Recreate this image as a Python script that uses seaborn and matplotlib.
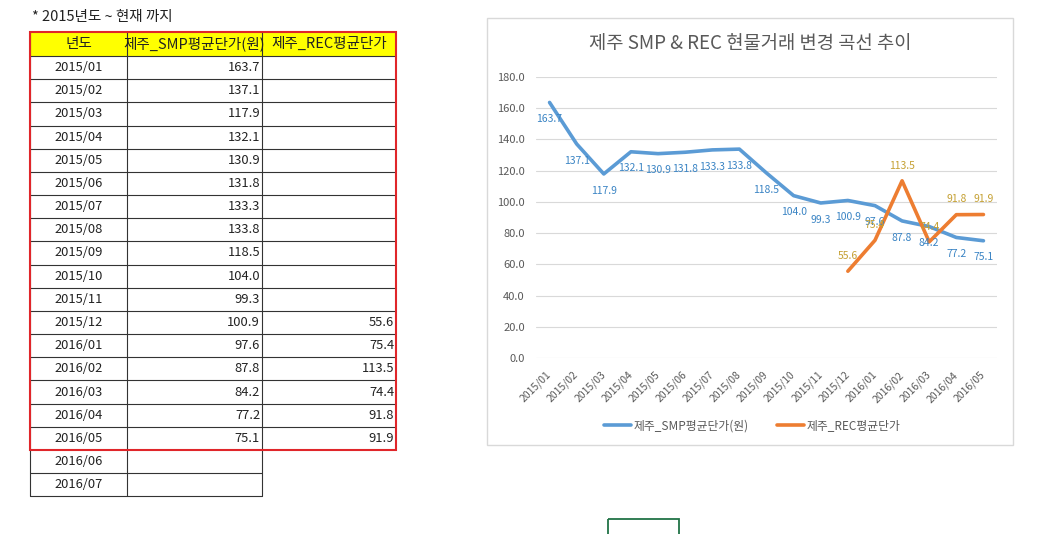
import numpy as np
import pandas as pd
import matplotlib
matplotlib.use('Agg')
import matplotlib.pyplot as plt
import seaborn as sns
from matplotlib.patches import Rectangle
from matplotlib.lines import Line2D

# %% data
months = ['2015/01', '2015/02', '2015/03', '2015/04', '2015/05', '2015/06',
          '2015/07', '2015/08', '2015/09', '2015/10', '2015/11', '2015/12',
          '2016/01', '2016/02', '2016/03', '2016/04', '2016/05']
smp = [163.7, 137.1, 117.9, 132.1, 130.9, 131.8, 133.3, 133.8, 118.5,
       104.0, 99.3, 100.9, 97.6, 87.8, 84.2, 77.2, 75.1]
rec = [np.nan] * 11 + [55.6, 75.4, 113.5, 74.4, 91.8, 91.9]
empty_months = ['2016/06', '2016/07']
header = ['년도', '제주_SMP평균단가(원)', '제주_REC평균단가']
series_names = ['제주_SMP평균단가(원)', '제주_REC평균단가']
note = '* 2015년도 ~ 현재 까지'
title = '제주 SMP & REC 현물거래 변경 곡선 추이'
yticks = [0, 20, 40, 60, 80, 100, 120, 140, 160, 180]

BLUE = '#5B9BD5'
ORANGE = '#ED7D31'
GRAY = '#595959'

sns.set_theme(style='white')
plt.rcParams['font.family'] = ['Noto Sans CJK KR', 'DejaVu Sans']

W, H = 1037, 534
fig = plt.figure(figsize=(W / 100, H / 100), dpi=100)
fig.patch.set_facecolor('white')

# canvas in pixel coords for the sheet part
cv = fig.add_axes([0, 0, 1, 1])
cv.set_xlim(0, W)
cv.set_ylim(H, 0)
cv.axis('off')

# %% table
col_x = [30, 127, 262, 396]
top, head_h = 32, 24
row_h = (450 - (top + head_h)) / len(months)
txt_col = '#222222'

cv.text(32, 17, note, va='center', fontsize=10.5, color=txt_col)
cv.add_patch(Rectangle((col_x[0], top), col_x[3] - col_x[0], head_h,
                       fc='#FFFF00', ec='none'))
for j, name in enumerate(header):
    cx = (col_x[j] + col_x[j + 1]) / 2
    t = cv.text(cx, top + head_h / 2, name, ha='center', va='center',
                fontsize=10.5, color=txt_col)
    t.set_clip_path(Rectangle((col_x[j], top), col_x[j + 1] - col_x[j], head_h,
                              transform=cv.transData))

red_bottom = top + head_h + row_h * len(months)
for i, m in enumerate(months):
    y0 = top + head_h + i * row_h
    yc = y0 + row_h / 2
    cv.text((col_x[0] + col_x[1]) / 2, yc, m, ha='center', va='center',
            fontsize=9.3, color=txt_col)
    cv.text(col_x[2] - 2, yc, f'{smp[i]:.1f}', ha='right', va='center',
            fontsize=9.3, color=txt_col)
    if not np.isnan(rec[i]):
        cv.text(col_x[3] - 2, yc, f'{rec[i]:.1f}', ha='right', va='center',
                fontsize=9.3, color=txt_col)
    cv.plot([col_x[0], col_x[3]], [y0, y0], color='#333333', lw=0.8)

for i, m in enumerate(empty_months):
    y0 = red_bottom + i * row_h
    cv.text((col_x[0] + col_x[1]) / 2, y0 + row_h / 2, m, ha='center',
            va='center', fontsize=9.3, color=txt_col)
    cv.plot([col_x[0], col_x[2]], [y0 + row_h, y0 + row_h], color='#333333', lw=0.8)

bottom_all = red_bottom + row_h * len(empty_months)
for x in col_x[:3]:
    cv.plot([x, x], [top, bottom_all], color='#333333', lw=0.8)
cv.add_patch(Rectangle((col_x[0], top), col_x[3] - col_x[0], red_bottom - top,
                       fill=False, ec='#E0262A', lw=1.5, zorder=5))

# %% chart frame and title
cv.add_patch(Rectangle((487, 18), 526, 427, fc='white', ec='#D9D9D9', lw=1))
cv.text(750, 44, title, ha='center', va='center', fontsize=13.5, color=GRAY)
cv.add_patch(Rectangle((608, 519), 71, 20, fill=False, ec='#217346', lw=1.3))

# %% line chart
ax = fig.add_axes([536 / W, 1 - 358 / H, 461 / W, 281 / H])
ax.set_facecolor('none')
idx = np.arange(len(months))
df = pd.concat([
    pd.DataFrame({'idx': idx, 'value': smp, 'series': series_names[0]}),
    pd.DataFrame({'idx': idx, 'value': rec, 'series': series_names[1]}),
]).dropna()
sns.lineplot(data=df, x='idx', y='value', hue='series',
             palette=[BLUE, ORANGE], linewidth=2.6, sort=False,
             legend=False, ax=ax)

for i, v in enumerate(smp):
    ax.annotate(f'{v:.1f}', (i, v), xytext=(0, -12), textcoords='offset points',
                ha='center', va='center', fontsize=7.5, color='#3A84C4')
for i, v in enumerate(rec):
    if not np.isnan(v):
        ax.annotate(f'{v:.1f}', (i, v), xytext=(0, 11), textcoords='offset points',
                    ha='center', va='center', fontsize=7.5, color='#C5A032')

ax.set_xlim(-0.5, len(months) - 0.5)
ax.set_ylim(0, 180)
ax.set_yticks(yticks)
ax.set_yticklabels([f'{v:.1f}' for v in yticks])
ax.set_xticks(idx)
ax.set_xticklabels(months, rotation=45, ha='right', va='center',
                   rotation_mode='anchor')
ax.tick_params(axis='y', length=0, pad=8, labelsize=8, labelcolor=GRAY)
ax.tick_params(axis='x', length=0, pad=11, labelsize=7.5, labelcolor=GRAY)
ax.set_xlabel('')
ax.set_ylabel('')
ax.yaxis.grid(True, color='#D9D9D9', lw=0.8)
ax.xaxis.grid(False)
for s in ax.spines.values():
    s.set_visible(False)

handles = [Line2D([], [], color=BLUE, lw=2.6), Line2D([], [], color=ORANGE, lw=2.6)]
ax.legend(handles, series_names, loc='center', bbox_to_anchor=(752 / W, 1 - 426 / H),
          bbox_transform=fig.transFigure, ncol=2, frameon=False, fontsize=8.5,
          handlelength=2.3, handletextpad=0.2, columnspacing=2.4, labelcolor=GRAY)

fig.savefig('out.png', dpi=100)
